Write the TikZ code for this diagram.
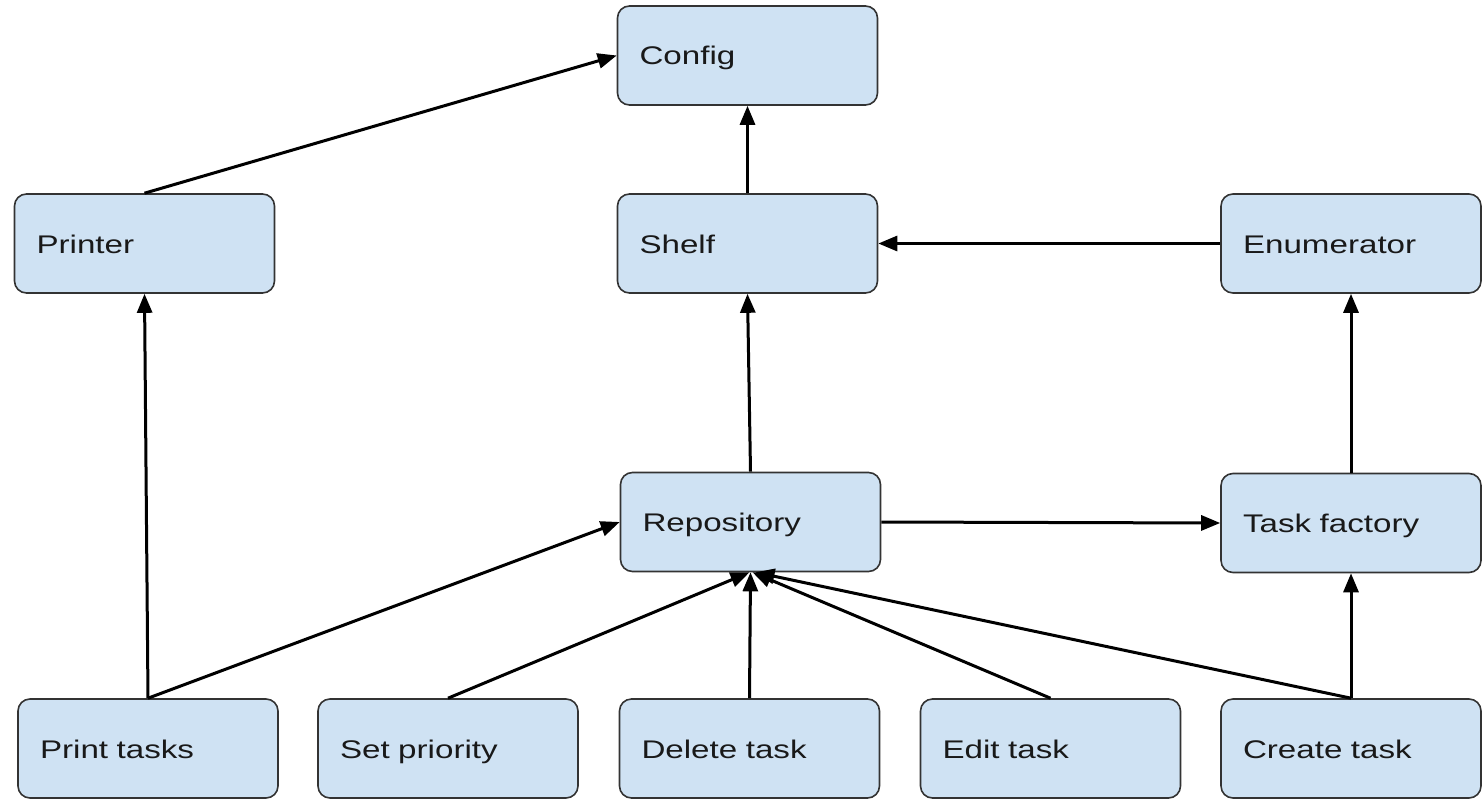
\documentclass[tikz,border=0pt]{standalone}
\usepackage{fontspec}
\setmainfont{Liberation Sans}[FakeStretch=1.3]
\usetikzlibrary{arrows.meta}
\definecolor{boxfill}{HTML}{CFE2F3}
\definecolor{boxline}{HTML}{333333}
\begin{document}
\begin{tikzpicture}[x=1pt,y=-1pt,
  box/.style={draw=boxline,line width=1.6pt,fill=boxfill,rounded corners=12pt,
    minimum height=99pt,text width=216pt,inner xsep=22pt,align=left,
    text height=24pt,text depth=5pt,
    font=\fontsize{25.5}{30}\selectfont,text=black!90},
  conn/.style={line width=3pt,-{Triangle[length=19pt,width=15pt]}}]
\useasboundingbox (0,0) rectangle (1482,800);
\node[box] (config) at (747.5,55.5) {Config};
\node[box] (printer) at (144.5,243.5) {Printer};
\node[box] (shelf) at (747.5,243.5) {Shelf};
\node[box] (enum) at (1351,243.5) {Enumerator};
\node[box] (repo) at (750.5,522) {Repository};
\node[box] (factory) at (1351,523) {Task factory};
\node[box] (print) at (148,748.5) {Print tasks};
\node[box] (prio) at (448,748.5) {Set priority};
\node[box] (delete) at (749.5,748.5) {Delete task};
\node[box] (edit) at (1050.5,748.5) {Edit task};
\node[box] (create) at (1351,748.5) {Create task};
\draw[conn] (printer.north) -- (config.west);
\draw[conn] (shelf.north) -- (config.south);
\draw[conn] (enum.west) -- (shelf.east);
\draw[conn] (repo.north) -- (shelf.south);
\draw[conn] (repo.east) -- (factory.west);
\draw[conn] (factory.north) -- (enum.south);
\draw[conn] (print.north) -- (printer.south);
\draw[conn] (print.north) -- (repo.west);
\draw[conn] (prio.north) -- ([xshift=-1pt]repo.south);
\draw[conn] (delete.north) -- (repo.south);
\draw[conn] (edit.north) -- ([xshift=2pt]repo.south);
\draw[conn] (create.north) -- ([xshift=5pt]repo.south);
\draw[conn] (create.north) -- (factory.south);
\end{tikzpicture}
\end{document}
